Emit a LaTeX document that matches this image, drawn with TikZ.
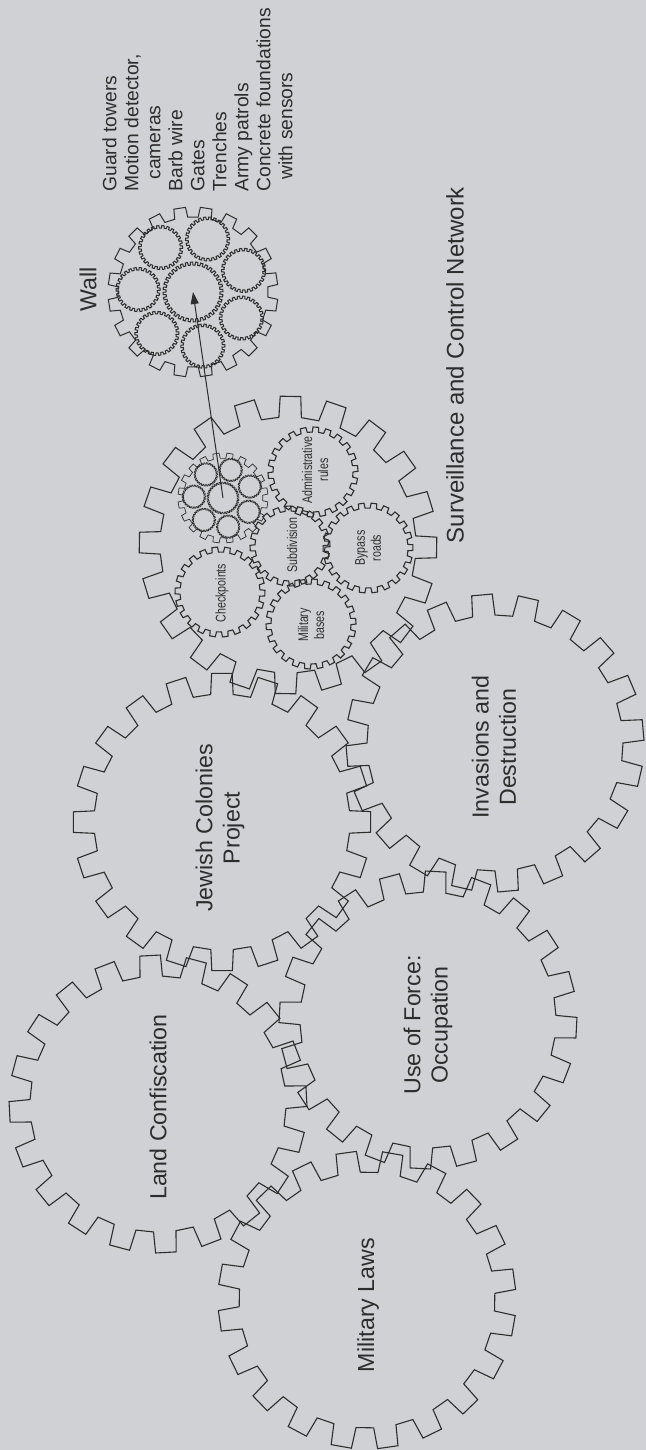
\documentclass[tikz,border=0pt]{standalone}
\usepackage{fontspec}
\setmainfont{Liberation Sans}
\newfontfamily\narrowsf[FakeStretch=0.76]{Liberation Sans}
\usepackage{tikz}
\usetikzlibrary{arrows.meta}
\definecolor{bggray}{RGB}{208,209,213}
\definecolor{ink}{RGB}{45,45,45}

\tikzset{
  gearline/.style={draw=ink,line width=0.55pt,line join=miter},
  biglabel/.style={rotate=90,text=ink,inner sep=0pt,font=\fontsize{11.6}{13.6}\selectfont},
  smalllabel/.style={rotate=90,text=ink,inner sep=0pt,font=\narrowsf\fontsize{7}{8}\selectfont},
  listtext/.style={rotate=90,text=ink,inner sep=0pt,align=left,font=\fontsize{9.65}{11}\selectfont}
}

% #1 centre, #2 teeth, #3 root radius, #4 tip radius, #5 start angle
\newcommand\gear[5]{%
  \begin{scope}[shift={(#1)}]
    \pgfmathsetmacro\pitch{360/#2}
    \draw[gearline] (#5:#3)
      \foreach \t in {1,...,#2}{
        -- ({#5+(\t-1)*\pitch+0.44*\pitch}:#3)
        -- ({#5+(\t-1)*\pitch+0.50*\pitch}:#4)
        -- ({#5+(\t-1)*\pitch+0.94*\pitch}:#4)
        -- ({#5+\t*\pitch}:#3)
      } -- cycle;
  \end{scope}}

% the wall gear with its eight small gears, #1 centre, #2 scale, #3 line width
\newcommand\wallgear[3]{%
  \begin{scope}[shift={(#1)},scale=#2,gearline/.append style={line width=#3}]
    \gear{0,0}{20}{75}{85}{-4}
    \gear{0,0}{36}{27}{30}{0}
    \foreach \k in {0,...,6}{%
      \gear{{-126+51.43*\k}:55}{26}{19.5}{22}{3}}
  \end{scope}}

\begin{document}
\begin{tikzpicture}[x=0.5pt,y=-0.5pt,>={Triangle[length=6pt,width=4pt]}]
\fill[bggray] (0,0) rectangle (646,1450);
\useasboundingbox (0,0) rectangle (646,1450);

\gear{158,1104}{20}{128}{149}{2}
\gear{222,822}{20}{128}{149}{5}
\gear{367,1300}{20}{128}{149}{-3}
\gear{428,1020}{20}{128}{149}{8}
\gear{495,743}{20}{128}{149}{0}
\gear{288,545}{20}{128}{149}{6}

\gear{313,472}{22}{40}{45}{0}
\gear{368,548}{22}{40}{45}{4}
\gear{290,546}{20}{35}{40}{2}
\gear{220,592}{22}{40}{45}{6}
\gear{311,624}{22}{40}{45}{1}

\wallgear{193,292}{1}{0.5pt}
\wallgear{223,498}{0.53}{0.35pt}

\coordinate (wallc) at (193,292);
\coordinate (clusterc) at (223,498);
\draw[->,ink,line width=0.5pt] (clusterc) -- (wallc);

\node[biglabel] (wall) at (88,289) {Wall};
\node[listtext,anchor=north west] (walllist) at (102,192) {Guard towers\\Motion detector,\\\hspace{6pt}cameras\\Barb wire\\Gates\\Trenches\\Army patrols\\Concrete foundations\\\hspace{6pt}with sensors};
\node[biglabel,font=\fontsize{12}{14}\selectfont] (network) at (455,365) {Surveillance and Control Network};

\node[smalllabel,align=center] (admin) at (315,470) {Administrative\\rules};
\node[smalllabel,align=center] (bypass) at (368,548) {Bypass\\roads};
\node[smalllabel] (subdiv) at (292,545) {Subdivision};
\node[smalllabel] (checkp) at (222,593) {Checkpoints};
\node[smalllabel,align=center] (milbases) at (311,625) {Military\\bases};

\node[biglabel,align=center] (colonies) at (220,828) {Jewish Colonies\\Project};
\node[biglabel,align=center] (invasions) at (494,747) {Invasions and\\Destruction};
\node[biglabel,align=center] (force) at (428,1025) {Use of Force:\\Occupation};
\node[biglabel] (landc) at (158,1107) {Land Confiscation};
\node[biglabel] (mlaws) at (368,1305) {Military Laws};
\end{tikzpicture}
\end{document}
